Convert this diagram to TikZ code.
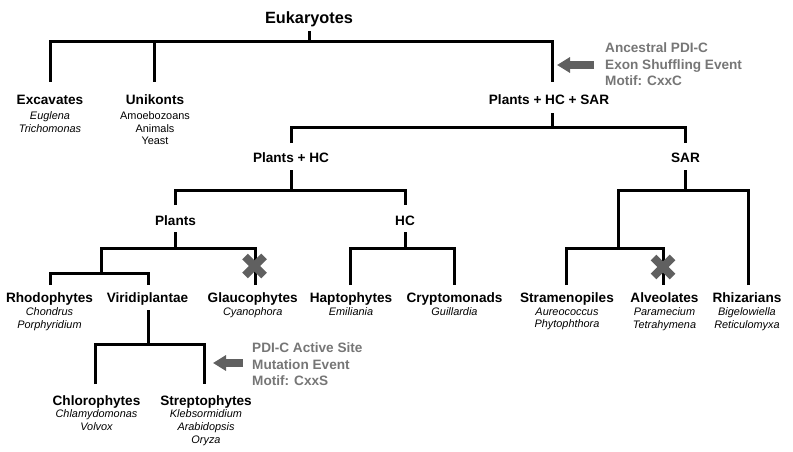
\documentclass[tikz,border=0pt]{standalone}
\usepackage{fontspec}
\setmainfont{Liberation Sans}
\usetikzlibrary{arrows.meta}
\definecolor{notegray}{RGB}{118,118,118}
\definecolor{markgray}{RGB}{96,96,96}
\begin{document}
\begin{tikzpicture}[x=1pt,y=-1pt,
  tree/.style={line width=3pt, line join=miter, black},
  bigtitle/.style={font=\fontsize{16.3}{19}\selectfont\bfseries, anchor=base, inner sep=0},
  title/.style={font=\fontsize{13.6}{16}\selectfont\bfseries, anchor=base, inner sep=0},
  sp/.style={font=\fontsize{10.9}{12.8}\selectfont\itshape, align=center, anchor=north, inner sep=0},
  spn/.style={font=\fontsize{10.9}{12.8}\selectfont, align=center, anchor=north, inner sep=0},
  note/.style={font=\fontsize{13.6}{16.5}\selectfont\bfseries, text=notegray, align=left, anchor=north west, inner sep=0},
  evarrow/.style={line width=8pt, markgray, -{Triangle[width=15pt,length=13pt]}},
  xmark/.style={line width=8pt, markgray}
]
\useasboundingbox (0,0) rectangle (793,452);

% ---- labels ----
\node[bigtitle] (euk) at (309,23.5) {Eukaryotes};
\node[title] (exc) at (50,105) {Excavates};
\node[sp] (excs) at (50,111.3) {Euglena\\Trichomonas};
\node[title] (uni) at (155,105) {Unikonts};
\node[spn] (unis) at (155,111.3) {Amoebozoans\\Animals\\Yeast};
\node[title] (phs) at (549,105) {Plants + HC + SAR};
\node[title] (ph) at (291,162) {Plants + HC};
\node[title] (sar) at (685.5,162) {SAR};
\node[title] (pl) at (175.5,225) {Plants};
\node[title] (hc) at (405,225) {HC};

\node[title] (rho) at (49.5,302.5) {Rhodophytes};
\node[sp] (rhos) at (49.5,307.3) {Chondrus\\Porphyridium};
\node[title] (vir) at (147.5,302.5) {Viridiplantae};
\node[title] (gla) at (252.7,302.5) {Glaucophytes};
\node[sp] (glas) at (252.7,307.3) {Cyanophora};
\node[title] (hap) at (351,302.5) {Haptophytes};
\node[sp] (haps) at (351,307.3) {Emiliania};
\node[title] (cry) at (454.5,302.5) {Cryptomonads};
\node[sp] (crys) at (454.5,307.3) {Guillardia};
\node[title] (stra) at (567,302.5) {Stramenopiles};
\node[sp] (stras) at (567,307.3) {Aureococcus\\Phytophthora};
\node[title] (alv) at (664.5,302.5) {Alveolates};
\node[sp] (alvs) at (664.5,307.3) {Paramecium\\Tetrahymena};
\node[title] (rhi) at (747,302.5) {Rhizarians};
\node[sp] (rhis) at (747,307.3) {Bigelowiella\\Reticulomyxa};

\node[title] (chl) at (96.5,405) {Chlorophytes};
\node[sp] (chls) at (96.5,409.8) {Chlamydomonas\\Volvox};
\node[title] (str) at (206,405) {Streptophytes};
\node[sp] (strs) at (206,409.8) {Klebsormidium\\Arabidopsis\\Oryza};

\node[note] (note1) at (605,42.5) {Ancestral PDI-C\\Exon Shuffling Event\\Motif: CxxC};
\node[note] (note2) at (252,342.5) {PDI-C Active Site\\Mutation Event\\Motif: CxxS};

% ---- tree coordinates ----
\coordinate (eukT) at (309,31);   \coordinate (eukJ) at (309,42);
\coordinate (excT) at (50,82);    \coordinate (uniT) at (154,82);   \coordinate (phsB) at (552,82);
\coordinate (phsT) at (552,113);  \coordinate (phsJ) at (552,127);
\coordinate (phB) at (291,143);   \coordinate (sarB) at (685,143);
\coordinate (phT) at (291,170);   \coordinate (phJ) at (291,190);
\coordinate (plB) at (175,205);   \coordinate (hcB) at (405,205);
\coordinate (sarT) at (685,170);  \coordinate (sarJ) at (685,190);
\coordinate (sarJ2) at (618,248);
\coordinate (rhiT) at (748,285);  \coordinate (straT) at (566,285); \coordinate (alvT) at (663,285);
\coordinate (plT) at (175,232);   \coordinate (plJ) at (175,248);
\coordinate (plJ2) at (101,273);  \coordinate (glaT) at (255,285);
\coordinate (rhoT) at (50,285);   \coordinate (virT) at (148,285);
\coordinate (hcT) at (405,232);   \coordinate (hcJ) at (405,248);
\coordinate (hapT) at (350,285);  \coordinate (cryT) at (454,285);
\coordinate (virS) at (148,310);  \coordinate (virJ) at (148,344);
\coordinate (chlT) at (95,384);   \coordinate (strT) at (204,384);

% ---- tree lines ----
\draw[tree] (eukT) -- (eukJ);
\draw[tree] (excT) |- (eukJ) -| (phsB);
\draw[tree] (uniT) -- (uniT |- eukJ);

\draw[tree] (phsT) -- (phsJ);
\draw[tree] (phB) |- (phsJ) -| (sarB);

\draw[tree] (phT) -- (phJ);
\draw[tree] (plB) |- (phJ) -| (hcB);

\draw[tree] (sarT) -- (sarJ);
\draw[tree] (rhiT) |- (sarJ) -| (sarJ2);
\draw[tree] (straT) |- (sarJ2) -| (alvT);

\draw[tree] (plT) -- (plJ);
\draw[tree] (glaT) |- (plJ) -| (plJ2);
\draw[tree] (rhoT) |- (plJ2) -| (virT);

\draw[tree] (hcT) -- (hcJ);
\draw[tree] (hapT) |- (hcJ) -| (cryT);

\draw[tree] (virS) -- (virJ);
\draw[tree] (chlT) |- (virJ) -| (strT);

% ---- loss marks ----
\coordinate (x1) at (254.5,266);
\coordinate (x2) at (663,267);
\foreach \c in {x1,x2}{
  \draw[xmark] (\c) ++(-9.5,-9.5) -- ++(19,19);
  \draw[xmark] (\c) ++(-9.5,9.5) -- ++(19,-19);
}

% ---- event arrows ----
\coordinate (a1s) at (594,65);  \coordinate (a1e) at (557,65);
\coordinate (a2s) at (243,363); \coordinate (a2e) at (213,363);
\draw[evarrow] (a1s) -- (a1e);
\draw[evarrow] (a2s) -- (a2e);
\end{tikzpicture}
\end{document}
